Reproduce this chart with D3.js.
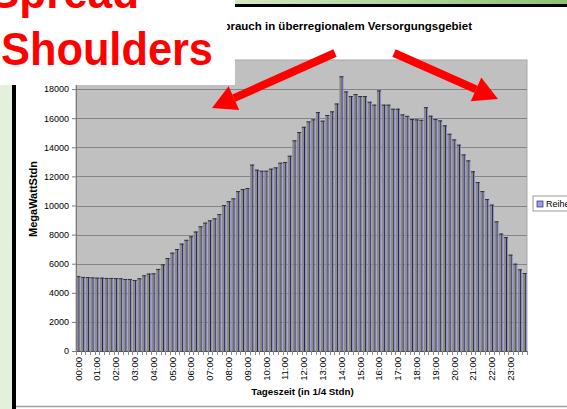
<!DOCTYPE html>
<html>
<head>
<meta charset="utf-8">
<script src="https://cdn.jsdelivr.net/npm/d3@7"></script>
<style>
body { margin: 0; background: #fff; overflow: hidden; }
svg { display: block; font-family: "Liberation Sans", Arial, sans-serif; }
</style>
</head>
<body>
<div id="chart"></div>
<script>
// quarter hour load values (MegaWattStdn)
var loadValues = [
  5150, 5090, 5080, 5060, 5040, 5040, 5020, 5020, 5010, 5000, 4950, 4950, 4880, 5000, 5200, 5320,
  5340, 5640, 5960, 6390, 6760, 7010, 7380, 7640, 7880, 8210, 8570, 8820, 8980, 9120, 9410, 10030,
  10300, 10490, 10990, 11130, 11200, 12810, 12460, 12390, 12390, 12530, 12620, 12940, 12990, 13420, 14480, 15050,
  15410, 15780, 15920, 16420, 15830, 16220, 16470, 17010, 18880, 17840, 17520, 17660, 17520, 17520, 17130, 16930,
  17910, 16930, 16930, 16650, 16650, 16260, 16160, 15940, 15920, 15890, 16760, 16170, 15940, 15850, 15510, 14930,
  14540, 14180, 13510, 13100, 12350, 11610, 10990, 10440, 10060, 8910, 8070, 7830, 6620, 6000, 5610, 5360
];
var hourLabels = ["00:00","01:00","02:00","03:00","04:00","05:00","06:00","07:00","08:00","09:00","10:00","11:00",
  "12:00","13:00","14:00","15:00","16:00","17:00","18:00","19:00","20:00","21:00","22:00","23:00"];
// 20000 sits at the top of the axis but its label is hidden under the overlay box
var yTickValues = [0, 2000, 4000, 6000, 8000, 10000, 12000, 14000, 16000, 18000, 20000];
var seriesName = "Reihe1";
var chartTitle = "Stromverbrauch in überregionalem Versorgungsgebiet";
var overlayWords = ["Spread", "Shoulders"];

var viewBox = {width: 567, height: 409};
var plot = {left: 76, right: 527, top: 60, bottom: 351};

var svg = d3.select("#chart").append("svg")
  .attr("width", viewBox.width)
  .attr("height", viewBox.height);

// slide frame bits
var defs = svg.append("defs");
var grad = defs.append("linearGradient").attr("id", "topband");
grad.append("stop").attr("offset", "0%").attr("stop-color", "#d3e8c5");
grad.append("stop").attr("offset", "100%").attr("stop-color", "#8fc070");
defs.append("clipPath").attr("id", "titleclip")
  .append("rect").attr("x", 227).attr("y", 0).attr("width", 340).attr("height", 60);

svg.append("rect").attr("x", 0).attr("y", 0).attr("width", 12).attr("height", viewBox.height).attr("fill", "#e3f1dc");
svg.append("rect").attr("x", 12).attr("y", 0).attr("width", 4).attr("height", viewBox.height).attr("fill", "#000");
svg.append("rect").attr("x", 230).attr("y", 0).attr("width", 340).attr("height", 4).attr("fill", "url(#topband)");
svg.append("rect").attr("x", 230).attr("y", 4).attr("width", 340).attr("height", 3).attr("fill", "#000");
svg.append("line").attr("x1", 16).attr("x2", viewBox.width).attr("y1", 406.5).attr("y2", 406.5)
  .attr("stroke", "#a0a0a0").attr("stroke-width", 1.5);

// scales
var x = d3.scaleBand()
  .domain(d3.range(loadValues.length))
  .range([plot.left, plot.right])
  .padding(0);

var y = d3.scaleLinear()
  .domain([0, 20000])
  .range([plot.bottom, plot.top]);

// plot area
svg.append("rect")
  .attr("x", plot.left).attr("y", plot.top)
  .attr("width", plot.right - plot.left).attr("height", plot.bottom - plot.top)
  .attr("fill", "#c0c0c0").attr("stroke", "#a8a8a8");

// gridlines
svg.append("g").selectAll("line")
  .data(yTickValues.filter(function(d){ return d > 0 && d < 20000; }))
  .enter().append("line")
    .attr("x1", plot.left).attr("x2", plot.right)
    .attr("y1", function(d){ return Math.round(y(d)) + 0.5; })
    .attr("y2", function(d){ return Math.round(y(d)) + 0.5; })
    .attr("stroke", "#858585");

// bars: gray body, black edge, blue face
var bw = x.bandwidth();
var bars = svg.append("g").selectAll("g")
  .data(loadValues)
  .enter().append("g");

bars.append("rect")
  .attr("x", function(d, i){ return x(i) + 0.3; })
  .attr("y", function(d){ return y(d); })
  .attr("width", bw * 0.5)
  .attr("height", function(d){ return plot.bottom - y(d); })
  .attr("fill", "#8a8a8a");
bars.append("rect")
  .attr("x", function(d, i){ return x(i) + 0.3 + bw * 0.5; })
  .attr("y", function(d){ return y(d); })
  .attr("width", bw * 0.18)
  .attr("height", function(d){ return plot.bottom - y(d); })
  .attr("fill", "#111");
bars.append("rect")
  .attr("x", function(d, i){ return x(i) + 0.3 + bw * 0.68; })
  .attr("y", function(d){ return y(d); })
  .attr("width", bw * 0.19)
  .attr("height", function(d){ return plot.bottom - y(d); })
  .attr("fill", "#8484e8");
bars.append("line")
  .attr("x1", function(d, i){ return x(i) + 0.3; })
  .attr("x2", function(d, i){ return x(i) + 0.3 + bw * 0.87; })
  .attr("y1", function(d){ return y(d) + 0.5; })
  .attr("y2", function(d){ return y(d) + 0.5; })
  .attr("stroke", "#333").attr("stroke-width", 1);

// axes
var yAxis = svg.append("g")
  .attr("transform", "translate(" + plot.left + ",0)")
  .call(d3.axisLeft(y).tickValues(yTickValues).tickSize(4).tickPadding(3)
    .tickFormat(function(d){ return d < 20000 ? d3.format("d")(d) : ""; }));
yAxis.selectAll("line, path").attr("stroke", "#7a7a7a");
yAxis.selectAll("text").attr("font-size", "9px").attr("fill", "#000")
  .attr("font-family", "Liberation Sans, Arial, sans-serif");

var xAxis = svg.append("g")
  .attr("transform", "translate(0," + plot.bottom + ")");
xAxis.append("line")
  .attr("x1", plot.left).attr("x2", plot.right)
  .attr("y1", 0.5).attr("y2", 0.5)
  .attr("stroke", "#555");
xAxis.selectAll(".minor")
  .data(d3.range(loadValues.length + 1))
  .enter().append("line")
    .attr("class", "minor")
    .attr("x1", function(i){ return Math.round(plot.left + i * bw) + 0.5; })
    .attr("x2", function(i){ return Math.round(plot.left + i * bw) + 0.5; })
    .attr("y1", 0).attr("y2", 4)
    .attr("stroke", "#8a8a8a");
xAxis.selectAll(".lbl")
  .data(hourLabels)
  .enter().append("text")
    .attr("class", "lbl")
    .attr("transform", function(d, i){
      return "translate(" + (x(i * 4) + bw / 2) + ",6) rotate(-90)";
    })
    .attr("text-anchor", "end")
    .attr("dy", "0.35em")
    .attr("font-size", "9.5px")
    .text(function(d){ return d; });

// axis titles
svg.append("text")
  .attr("x", 33).attr("y", 199)
  .attr("transform", "rotate(-90,33,199)")
  .attr("text-anchor", "middle")
  .attr("dy", "0.35em")
  .attr("font-size", "11px")
  .attr("font-weight", "bold")
  .text("MegaWattStdn");

svg.append("text")
  .attr("x", (plot.left + plot.right) / 2 + 1).attr("y", 395)
  .attr("text-anchor", "middle")
  .attr("font-size", "9.8px")
  .attr("font-weight", "bold")
  .text("Tageszeit (in 1/4 Stdn)");

// legend
var legend = svg.append("g").attr("transform", "translate(533,196)");
legend.append("rect").attr("width", 45).attr("height", 15)
  .attr("fill", "#fff").attr("stroke", "#9a9a9a");
legend.append("rect").attr("x", 4).attr("y", 5).attr("width", 6).attr("height", 6)
  .attr("fill", "#9999ff").attr("stroke", "#333").attr("stroke-width", 0.7);
legend.append("text").attr("x", 13).attr("y", 11).attr("font-size", "9px").text(seriesName);

// overlay annotation
svg.append("rect").attr("x", 0).attr("y", 0).attr("width", 235).attr("height", 85).attr("fill", "#fff");

// chart title, its start is hidden by the overlay
svg.append("text")
  .attr("clip-path", "url(#titleclip)")
  .attr("x", 472).attr("y", 30)
  .attr("text-anchor", "end")
  .attr("font-size", "11.5px")
  .attr("font-weight", "bold")
  .text(chartTitle);

svg.append("text")
  .attr("x", -10).attr("y", 8)
  .attr("font-size", "46px").attr("font-weight", "bold").attr("fill", "#ff0000")
  .attr("textLength", 149).attr("lengthAdjust", "spacingAndGlyphs")
  .text(overlayWords[0]);
svg.append("text")
  .attr("x", 1).attr("y", 65)
  .attr("font-size", "47px").attr("font-weight", "bold").attr("fill", "#ff0000")
  .attr("textLength", 212).attr("lengthAdjust", "spacingAndGlyphs")
  .text(overlayWords[1]);

function arrow(x1, y1, x2, y2){
  var ang = Math.atan2(y2 - y1, x2 - x1);
  var head = 24, half = 13;
  var bx = x2 - head * Math.cos(ang), by = y2 - head * Math.sin(ang);
  svg.append("line")
    .attr("x1", x1).attr("y1", y1).attr("x2", bx).attr("y2", by)
    .attr("stroke", "#ff0000").attr("stroke-width", 8);
  var px = -Math.sin(ang) * half, py = Math.cos(ang) * half;
  svg.append("path")
    .attr("d", "M" + x2 + "," + y2 + "L" + (bx + px) + "," + (by + py) + "L" + (bx - px) + "," + (by - py) + "Z")
    .attr("fill", "#ff0000");
}
arrow(335, 53, 212, 108);
arrow(394, 53, 498, 99);
</script>
</body>
</html>
